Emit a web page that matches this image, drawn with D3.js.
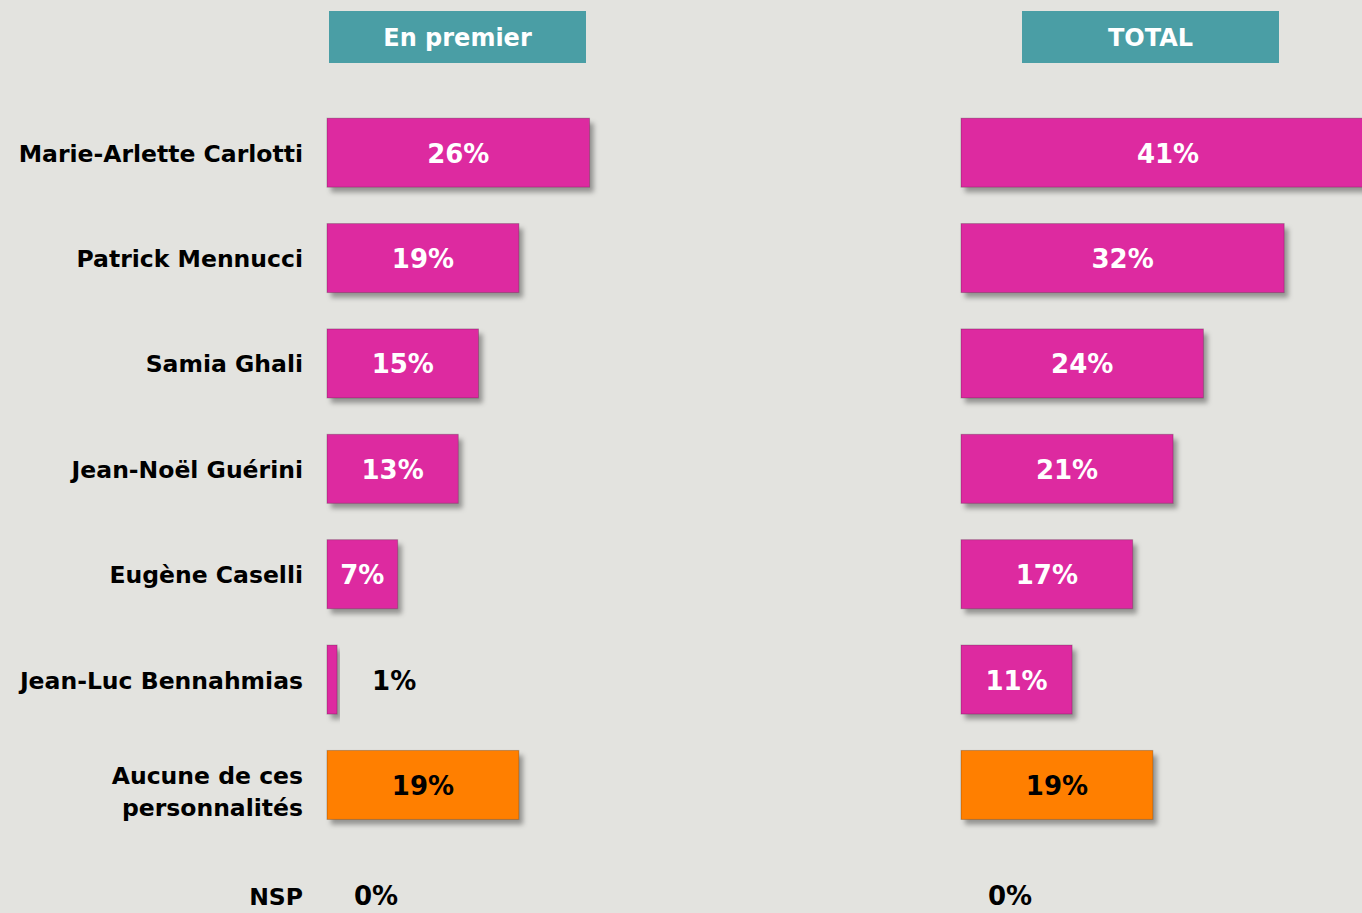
<!DOCTYPE html>
<html>
<head>
<meta charset="utf-8">
<script src="https://cdn.jsdelivr.net/npm/d3@7"></script>
<style>
    body { margin: 0; background: #e3e3df; }
    svg { display: block; }
    text { font-family: "DejaVu Sans", Verdana, sans-serif; font-weight: bold; }
</style>
</head>
<body>
<svg id="chart" width="1362" height="913"></svg>
<script>
// Candidates (last two rows are "none" and "don't know")
const categories = [
    "Marie-Arlette Carlotti",
    "Patrick Mennucci",
    "Samia Ghali",
    "Jean-Noël Guérini",
    "Eugène Caselli",
    "Jean-Luc Bennahmias",
    "Aucune de ces personnalités",
    "NSP"
];
const premierValues = [26, 19, 15, 13, 7, 1, 19, 0];
const totalValues = [41, 32, 24, 21, 17, 11, 19, 0];
const panelTitles = ["En premier", "TOTAL"];

const svg = d3.select("#chart");

// drop shadow under bars
const defs = svg.append("defs");
const f = defs.append("filter").attr("id", "shadow")
    .attr("x", "-10%").attr("y", "-20%").attr("width", "130%").attr("height", "160%");
f.append("feDropShadow")
    .attr("dx", 4).attr("dy", 5).attr("stdDeviation", 2.5)
    .attr("flood-color", "#000").attr("flood-opacity", 0.35);

const y = d3.scaleBand()
    .domain(categories)
    .range([100, 943])
    .paddingInner(0.345)
    .paddingOuter(0.1725);

const pxPerPct = 10.1;

// category labels
const labels = svg.append("g");
categories.forEach(c => {
    const cy = y(c) + y.bandwidth() / 2;
    const t = labels.append("text")
        .attr("x", 303)
        .attr("text-anchor", "end")
        .style("font-size", "23.5px")
        .style("fill", "#000");
    if (c === "Aucune de ces personnalités") {
        t.append("tspan").attr("x", 303).attr("y", cy - 1).text("Aucune de ces");
        t.append("tspan").attr("x", 303).attr("y", cy + 31).text("personnalités");
    } else {
        t.attr("y", cy + (c === "NSP" ? 15 : 9)).text(c);
    }
});

function drawPanel(values, x0, title, titleX) {
    const x = d3.scaleLinear().domain([0, 100]).range([x0, x0 + 100 * pxPerPct]);
    const g = svg.append("g");

    // header box
    g.append("rect")
        .attr("x", titleX).attr("y", 11)
        .attr("width", 257).attr("height", 52)
        .attr("fill", "#4a9ea5");
    g.append("text")
        .attr("x", titleX + 128.5).attr("y", 46)
        .attr("text-anchor", "middle")
        .style("font-size", "24px")
        .style("fill", "#fff")
        .text(title);

    const rows = categories.map((c, i) => ({ cat: c, value: values[i], idx: i }));

    g.selectAll("rect.bar")
        .data(rows.filter(d => d.value > 0))
        .enter().append("rect")
        .attr("class", "bar")
        .attr("x", x(0))
        .attr("y", d => y(d.cat))
        .attr("width", d => x(d.value) - x(0))
        .attr("height", y.bandwidth())
        .attr("fill", d => d.idx === 6 ? "#ff7f00" : "#dd2ba0")
        .attr("stroke", "rgba(0,0,0,0.22)")
        .attr("stroke-width", 1)
        .attr("filter", "url(#shadow)");

    g.selectAll("text.val")
        .data(rows)
        .enter().append("text")
        .attr("class", "val")
        .style("font-size", "26px")
        .attr("text-anchor", d => d.value >= 5 ? "middle" : "start")
        .attr("x", d => d.value >= 5 ? (x(0) + x(d.value)) / 2 : x(d.value) + (d.value > 0 ? 35 : 27))
        .attr("y", d => y(d.cat) + y.bandwidth() / 2 + (d.value === 0 ? 15 : 10))
        .style("fill", d => (d.value < 5 || d.idx === 6) ? "#000" : "#fff")
        .text(d => d.value + "%");
}

drawPanel(premierValues, 327, panelTitles[0], 329);
drawPanel(totalValues, 961, panelTitles[1], 1022);
</script>
</body>
</html>
